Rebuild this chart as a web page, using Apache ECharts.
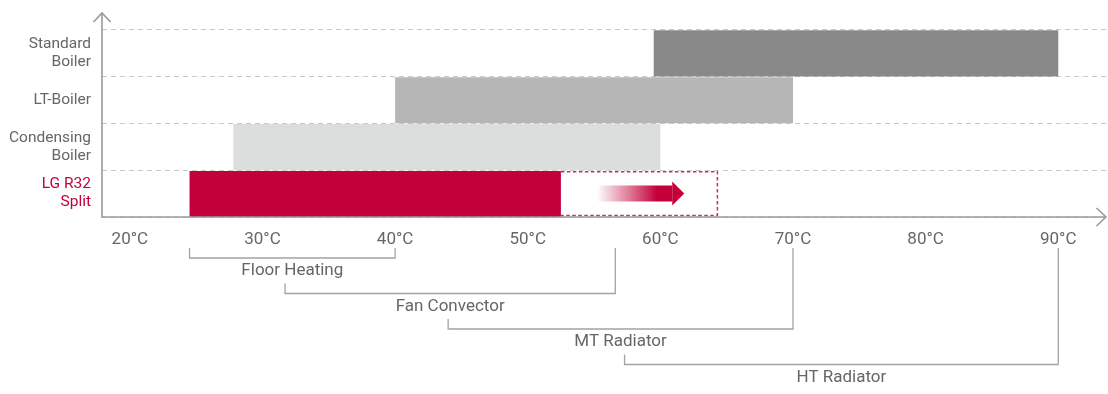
<!DOCTYPE html>
<html>
<head>
<meta charset="utf-8">
<script src="https://cdn.jsdelivr.net/npm/echarts@6/dist/echarts.min.js"></script>
<style>
  html, body { margin: 0; padding: 0; background: #fff; }
  #chart { width: 1108px; height: 394px; }
</style>
</head>
<body>
<div id="chart"></div>
<script>
// Heating systems and the flow-temperature range each one covers (°C)
const systems = ['Standard\nBoiler', 'LT-Boiler', 'Condensing\nBoiler', 'LG R32\nSplit'];
const rangeMin = [59.5, 40, 27.8, 24.5];
const rangeMax = [90, 70, 60, 52.5];

// LG R32 Split extended range (dashed box) and its arrow
const r32ExtendedMax = 64.3;
const arrowFrom = 55.2;
const arrowTo = 61.8;

// Emitter temperature ranges shown below the axis
const emitters = ['Floor Heating', 'Fan Convector', 'MT Radiator', 'HT Radiator'];
const emitterMin = [24.5, 31.7, 44, 57.3];
const emitterMax = [40, 56.6, 70, 90];

// Axis tick labels
const tempTicks = [20, 30, 40, 50, 60, 70, 80, 90];

const barColors = ['#898989', '#b5b6b5', '#dcdedd', '#c4003a'];
const RED = '#c4003a';
const TEXT = '#666666';
const AXIS = '#9a9a9a';
const FONT = 'Roboto, "Noto Sans", sans-serif';

const chart = echarts.init(document.getElementById('chart'), null, { renderer: 'canvas' });

function barItem(params, api) {
  const cat = api.value(0);
  const a = api.coord([api.value(1), cat]);
  const b = api.coord([api.value(2), cat]);
  const h = api.size([0, 1])[1];
  return {
    type: 'rect',
    shape: { x: a[0], y: a[1] - h / 2 + 0.8, width: b[0] - a[0], height: h - 0.8 },
    style: { fill: barColors[cat] }
  };
}

function extensionItem(params, api) {
  const cat = api.value(0);
  const a = api.coord([api.value(1), cat]);
  const b = api.coord([api.value(2), cat]);
  const h = api.size([0, 1])[1];
  const top = a[1] - h / 2 + 1.5;
  const bottom = a[1] + h / 2 - 1.5;
  const af = api.coord([api.value(3), cat]);
  const at = api.coord([api.value(4), cat]);
  const cy = a[1];
  const headLen = 12;
  const hb = at[0] - headLen;
  return {
    type: 'group',
    children: [
      {
        type: 'polyline',
        shape: { points: [[a[0], top], [b[0], top], [b[0], bottom], [a[0], bottom]] },
        style: { stroke: '#cc2d58', lineWidth: 1.5, lineDash: [3.5, 2.5], fill: null }
      },
      {
        type: 'rect',
        shape: { x: af[0], y: cy - 8, width: hb - af[0], height: 16 },
        style: {
          fill: new echarts.graphic.LinearGradient(0, 0, 1, 0, [
            { offset: 0, color: 'rgba(196,0,58,0)' },
            { offset: 0.45, color: 'rgba(196,0,58,0.55)' },
            { offset: 0.8, color: 'rgba(196,0,58,1)' },
            { offset: 1, color: 'rgba(196,0,58,1)' }
          ])
        }
      },
      {
        type: 'polygon',
        shape: { points: [[hb, cy - 12], [at[0], cy], [hb, cy + 12]] },
        style: { fill: RED }
      }
    ]
  };
}

function emitterItem(params, api) {
  const cs = params.coordSys;
  const axisY = cs.y + cs.height;
  const i = params.dataIndex;
  const x0 = api.coord([api.value(0), 0])[0];
  const x1 = api.coord([api.value(1), 0])[0];
  const baseY = axisY + 41 + i * 35.5;
  return {
    type: 'group',
    children: [
      {
        type: 'polyline',
        shape: { points: [[x0, baseY - 10], [x0, baseY], [x1, baseY], [x1, axisY + 31]] },
        style: { stroke: '#a3a3a3', lineWidth: 1.3, fill: null }
      },
      {
        type: 'text',
        x: (x0 + x1) / 2,
        y: baseY + 13,
        style: {
          text: emitters[i], fill: TEXT, font: '17px ' + FONT,
          align: 'center', verticalAlign: 'middle'
        }
      }
    ]
  };
}

function frameItem(params, api) {
  const cs = params.coordSys;
  const x0 = cs.x, y0 = cs.y + cs.height, x1 = cs.x + cs.width, yt = cs.y - 16.5;
  const st = { stroke: AXIS, lineWidth: 1.6, fill: null };
  return {
    type: 'group',
    children: [
      { type: 'polyline', shape: { points: [[x0, yt], [x0, y0], [x1, y0]] }, style: st },
      { type: 'polyline', shape: { points: [[x0 - 8.5, yt + 9], [x0, yt], [x0 + 8.5, yt + 9]] }, style: st },
      { type: 'polyline', shape: { points: [[x1 - 9.5, y0 - 9], [x1, y0], [x1 - 9.5, y0 + 9]] }, style: st }
    ]
  };
}

const option = {
  backgroundColor: '#ffffff',
  animation: false,
  grid: { left: 102, right: 2, top: 29.5, bottom: 177, containLabel: false },
  xAxis: {
    type: 'value',
    min: 17.9,
    max: 93.6,
    axisLine: { show: false },
    axisTick: { show: false },
    splitLine: { show: false },
    axisLabel: {
      customValues: tempTicks,
      formatter: v => v + '°C',
      color: TEXT,
      fontSize: 17,
      fontFamily: FONT,
      margin: 14
    }
  },
  yAxis: {
    type: 'category',
    data: systems,
    inverse: true,
    axisLine: { show: false },
    axisTick: { show: false },
    splitLine: { show: true, interval: 0, lineStyle: { color: '#c9c9c9', type: [5, 4], width: 1 } },
    axisLabel: {
      margin: 11,
      align: 'right',
      formatter: (v, i) => v.split('\n').map(s => (i === 3 ? '{r|' : '{g|') + s + '}').join('\n'),
      rich: {
        g: { color: TEXT, fontSize: 15.5, fontFamily: FONT, lineHeight: 18 },
        r: { color: RED, fontSize: 15.5, fontFamily: FONT, lineHeight: 18 }
      }
    }
  },
  series: [
    {
      type: 'custom',
      name: 'ranges',
      coordinateSystem: 'cartesian2d',
      renderItem: barItem,
      encode: { x: [1, 2], y: 0 },
      data: systems.map((s, i) => [i, rangeMin[i], rangeMax[i]]),
      z: 2
    },
    {
      type: 'custom',
      name: 'extension',
      coordinateSystem: 'cartesian2d',
      renderItem: extensionItem,
      encode: { x: [1, 2], y: 0 },
      data: [[3, rangeMax[3], r32ExtendedMax, arrowFrom, arrowTo]],
      z: 3
    },
    {
      type: 'custom',
      name: 'emitters',
      coordinateSystem: 'cartesian2d',
      renderItem: emitterItem,
      clip: false,
      encode: { x: [0, 1], y: 2 },
      data: emitters.map((e, i) => [emitterMin[i], emitterMax[i], 3]),
      z: 4
    },
    {
      type: 'custom',
      name: 'frame',
      coordinateSystem: 'cartesian2d',
      renderItem: frameItem,
      clip: false,
      encode: { x: 0, y: 1 },
      data: [[20, 3]],
      z: 5
    }
  ]
};

chart.setOption(option);
</script>
</body>
</html>
